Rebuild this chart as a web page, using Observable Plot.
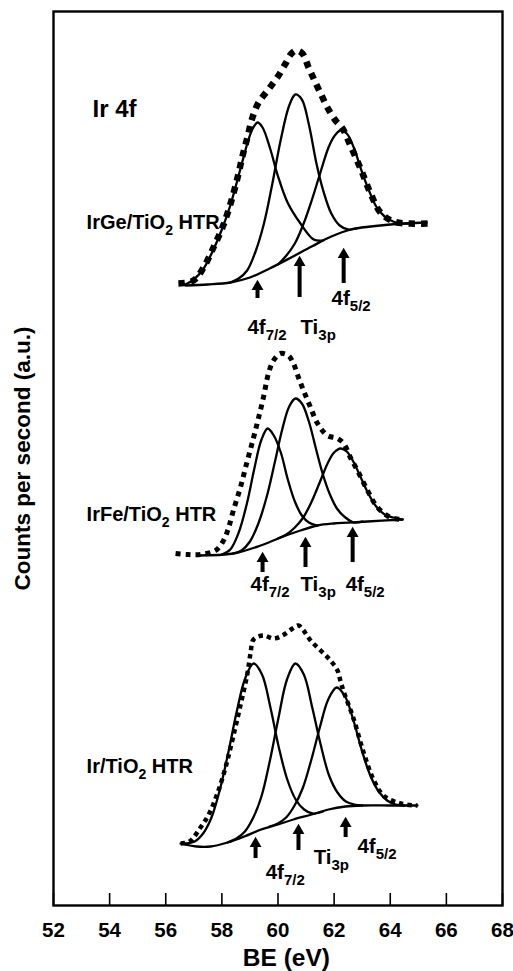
<!DOCTYPE html>
<html><head><meta charset="utf-8">
<script src="https://cdn.jsdelivr.net/npm/d3@7"></script>
<script src="https://cdn.jsdelivr.net/npm/@observablehq/plot@0.6"></script>
<style>body{margin:0;background:#fff} svg{display:block}</style>
</head><body><div id="chart"></div>
<script>
// ---- Data (BE in eV, intensity in arbitrary units) ----
const xTicks = [52, 54, 56, 58, 60, 62, 64, 66, 68];

// IrGe/TiO2 HTR (top spectrum)
const ge_env = [[56.45,622],[56.99,625],[57.35,638],[57.7,658],[58.02,678],[58.31,702],[58.56,728],[58.74,750],[58.91,768],[59.09,788],[59.31,803],[59.63,815],[59.95,827],[60.27,842],[60.48,852],[60.65,855],[60.87,852],[61.09,838],[61.3,825],[61.52,812],[61.76,798],[62.05,785],[62.3,777],[62.58,760],[62.94,737],[63.3,712],[63.65,693],[64.12,684],[64.72,682],[65.33,682]];
const ge_base = [[56.7,620],[57.5,621],[58.3,623],[59.0,628],[59.7,637],[60.4,647],[61.2,659],[61.9,669],[62.6,676],[63.3,679],[64.0,681],[65.3,683]];
const ge_c1 = [[56.7,621],[57.0,626],[57.35,637],[57.7,656],[58.0,676],[58.3,700],[58.55,725],[58.75,746],[58.95,766],[59.1,777],[59.27,783],[59.45,778],[59.73,756],[59.98,731],[60.34,703],[60.8,682],[61.27,666],[61.6,665]];
const ge_c2 = [[58.3,623],[58.6,627],[58.9,635],[59.2,654],[59.5,682],[59.8,722],[60.1,766],[60.4,800],[60.62,811],[60.85,806],[61.1,781],[61.37,742],[61.6,716],[61.9,692],[62.2,680],[62.5,676],[62.8,677]];
const ge_c3 = [[60.0,641],[60.3,650],[60.6,662],[60.9,681],[61.2,705],[61.5,732],[61.8,758],[62.0,769],[62.22,775],[62.45,772],[62.7,758],[62.95,737],[63.2,718],[63.5,699],[63.8,689],[64.1,684],[64.4,682],[64.7,682]];

// IrFe/TiO2 HTR (middle spectrum)
const fe_env = [[56.35,352],[56.78,351],[57.24,351],[57.77,355],[58.06,365],[58.24,378],[58.41,395],[58.66,418],[58.91,445],[59.13,468],[59.31,488],[59.48,508],[59.66,532],[59.84,545],[60.09,552],[60.37,550],[60.55,542],[60.73,528],[60.91,515],[61.16,498],[61.41,482],[61.76,470],[62.12,467],[62.34,462],[62.58,448],[62.83,435],[63.19,415],[63.55,398],[64.01,388],[64.44,386]];
const fe_base = [[57.13,350],[58.41,352],[59.38,360],[60.09,368],[60.8,375],[61.41,380],[61.98,382],[63.19,384],[64.44,386]];
const fe_c1 = [[58.0,351],[58.3,356],[58.6,373],[58.9,403],[59.15,436],[59.4,465],[59.63,477],[59.85,470],[60.1,453],[60.35,426],[60.6,404],[60.85,390],[61.1,383],[61.4,380]];
const fe_c2 = [[58.4,352],[58.7,355],[59.0,364],[59.3,382],[59.6,409],[59.9,445],[60.15,476],[60.4,499],[60.62,507],[60.85,502],[61.1,484],[61.35,457],[61.6,431],[61.85,411],[62.1,397],[62.4,388],[62.7,383],[63.0,384]];
const fe_c3 = [[60.0,367],[60.3,371],[60.6,378],[60.9,388],[61.2,404],[61.5,424],[61.8,444],[62.0,453],[62.23,457],[62.45,454],[62.7,443],[62.95,428],[63.2,413],[63.5,399],[63.8,391],[64.1,388],[64.44,386]];

// Ir/TiO2 HTR (bottom spectrum)
const ir_env = [[56.53,62],[56.85,64],[57.24,78],[57.55,92],[57.84,112],[58.1,135],[58.31,158],[58.66,200],[58.91,232],[59.02,252],[59.13,266],[59.48,270],[59.84,267],[60.16,270],[60.52,277],[60.73,280],[60.91,275],[61.16,265],[61.52,255],[61.87,245],[62.12,235],[62.23,224],[62.34,214],[62.69,187],[63.05,153],[63.4,126],[63.76,110],[64.37,102],[64.97,100]];
const ir_base = [[56.53,62],[57.1,59],[57.6,59],[58.2,63],[58.8,69],[59.4,76],[60.0,81],[60.55,86],[61.2,91],[61.8,96],[62.4,99],[63.0,100],[64.0,100],[64.97,100]];
const ir_c1 = [[56.6,62],[57.03,64],[57.33,72],[57.63,88],[57.93,116],[58.23,153],[58.53,194],[58.83,227],[59.13,242],[59.43,231],[59.73,198],[60.03,158],[60.33,126],[60.63,106],[60.93,96],[61.23,92],[61.6,94]];
const ir_c2 = [[58.2,63],[58.52,67],[58.82,74],[59.12,88],[59.42,110],[59.72,146],[60.02,188],[60.32,226],[60.62,242],[60.92,231],[61.22,198],[61.52,161],[61.82,130],[62.12,113],[62.42,104],[62.72,101],[63.0,100]];
const ir_c3 = [[59.7,79],[59.99,82],[60.29,88],[60.59,100],[60.89,118],[61.19,146],[61.49,178],[61.79,206],[62.09,218],[62.39,209],[62.69,185],[62.99,155],[63.29,130],[63.59,114],[63.89,105],[64.19,101],[64.5,100]];

// Sample labels and peak annotations
const sampleNames = ["IrGe/TiO_{2} HTR", "IrFe/TiO_{2} HTR", "Ir/TiO_{2} HTR"];
const sampleLabelX = [53.18, 53.18, 53.18];
const sampleLabelY = [683, 391, 139];
const peakNames = ["4f_{7/2}", "Ti_{3p}", "4f_{5/2}"];
// label anchors [x (eV), y] per spectrum
const ge_peakLabels = [[58.91,578],[60.80,578],[61.91,607]];
const fe_peakLabels = [[59.02,321],[60.80,321],[62.41,321]];
const ir_peakLabels = [[59.56,33],[61.27,48],[62.83,59]];
// arrows [x (eV), tail y, tip y]
const ge_arrows = [[59.27,607,624],[60.77,608,648],[62.34,622,656]];
const fe_arrows = [[59.45,333,352],[60.98,338,367],[62.66,343,377]];
const ir_arrows = [[59.20,47,67],[60.73,55,80],[62.41,68,87]];

// ---- Build tables ----
const FONT = "'Liberation Sans', Arial, Helvetica, sans-serif";
const spectra = [
  {name: "ge", env: ge_env, parts: [ge_base, ge_c1, ge_c2, ge_c3], dotW: 6.5, dash: "6.5,6"},
  {name: "fe", env: fe_env, parts: [fe_base, fe_c1, fe_c2, fe_c3], dotW: 5, dash: "5,5"},
  {name: "ir", env: ir_env, parts: [ir_base, ir_c1, ir_c2, ir_c3], dotW: 4.5, dash: "4.5,4"}
];
const solidRows = spectra.flatMap(s => s.parts.flatMap((p, i) => p.map(([x, y]) => ({x, y, id: s.name + i}))));
const peakLabelRows = [ge_peakLabels, fe_peakLabels, ir_peakLabels].flatMap(L => L.map(([x, y], i) => ({x, y, text: peakNames[i]})));
const arrowRows = [ge_arrows, fe_arrows, ir_arrows].flatMap(A => A.map(([x, y1, y2]) => ({x, y1, y2})));
const sampleRows = sampleNames.map((t, i) => ({x: sampleLabelX[i], y: sampleLabelY[i], text: t}));

const marks = [];
for (const s of spectra) {
  marks.push(Plot.line(s.env.map(([x, y]) => ({x, y})), {x: "x", y: "y", curve: "catmull-rom", stroke: "black", strokeWidth: s.dotW, strokeDasharray: s.dash, strokeLinecap: "butt"}));
}
marks.push(
  Plot.line(solidRows, {x: "x", y: "y", z: "id", curve: "catmull-rom", stroke: "black", strokeWidth: 2.3}),
  // arrows: shaft + filled head
  Plot.ruleX(arrowRows, {x: "x", y1: "y1", y2: d => d.y2 - 7, stroke: "black", strokeWidth: 4}),
  Plot.dot(arrowRows, {x: "x", y: d => d.y2 - 5, symbol: "triangle", r: 4.4, fill: "black", stroke: "none"}),
  Plot.text(peakLabelRows, {x: "x", y: "y", text: "text", textAnchor: "start", fontSize: 20.5, fontWeight: "bold", fontFamily: FONT, fill: "black"}),
  Plot.text(sampleRows, {x: "x", y: "y", text: "text", textAnchor: "start", fontSize: 20, fontWeight: "bold", fontFamily: FONT, fill: "black"}),
  Plot.text(["Ir 4f"], {x: 53.39, y: 796, text: d => d, textAnchor: "start", fontSize: 24, fontWeight: "bold", fontFamily: FONT, fill: "black"}),
  // x ticks (inward) and tick labels
  Plot.ruleX(xTicks, {x: d => d, y1: 0, y2: 12, stroke: "black", strokeWidth: 1.6}),
  Plot.text(xTicks, {x: d => d, y: -25, text: d => String(d), fontSize: 20.5, fontWeight: "bold", fontFamily: FONT, fill: "black"}),
  Plot.text(["BE (eV)"], {x: 60.3, y: -53, text: d => d, fontSize: 24.5, fontWeight: "bold", fontFamily: FONT, fill: "black"}),
  Plot.text(["Counts per second (a.u.)"], {x: 50.9, y: 447, text: d => d, rotate: -90, fontSize: 22.5, fontWeight: "bold", fontFamily: FONT, fill: "black"}),
  Plot.frame({stroke: "black", strokeWidth: 2.4})
);

const chart = Plot.plot({
  width: 513, height: 971,
  marginLeft: 53, marginRight: 11, marginTop: 11, marginBottom: 66,
  x: {domain: [52, 68], axis: null},
  y: {domain: [0, 894], axis: null},
  style: {fontFamily: FONT, background: "white", overflow: "visible"},
  marks
});

// subscripts: turn "_{...}" into lowered, smaller tspans
chart.querySelectorAll("text").forEach(t => {
  const s = t.textContent;
  if (!s.includes("_{")) return;
  const fs = parseFloat(t.getAttribute("font-size") || t.parentNode.getAttribute("font-size")) || 19;
  const shift = Math.round(fs * 0.3);
  const parts = s.split(/(_\{[^}]*\})/).filter(p => p);
  while (t.firstChild) t.removeChild(t.firstChild);
  let down = false;
  for (const p of parts) {
    const ts = document.createElementNS("http://www.w3.org/2000/svg", "tspan");
    if (p.startsWith("_{")) {
      ts.textContent = p.slice(2, -1);
      ts.setAttribute("font-size", String(Math.round(fs * 0.72)));
      ts.setAttribute("dy", String(shift));
      down = true;
    } else {
      ts.textContent = p;
      if (down) { ts.setAttribute("dy", String(-shift)); down = false; }
    }
    t.appendChild(ts);
  }
});
document.getElementById("chart").appendChild(chart);
</script>
</body></html>
